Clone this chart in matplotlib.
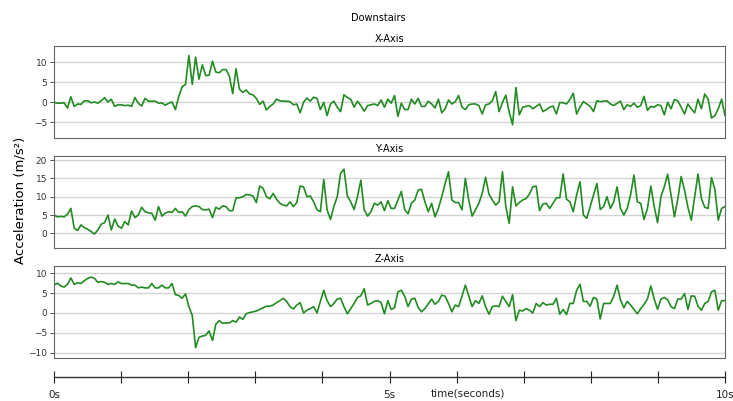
import numpy as np
import matplotlib
matplotlib.use("Agg")
import matplotlib.pyplot as plt

x_axis = [-0.1, -0.3, -0.3, -0.2, -1.5, 1.3, -1.1, -0.5, -0.6, 0.3,
          0.3, -0.2, 0.0, -0.3, 0.3, 1.1, 0.0, 0.7, -1.1, -0.7,
          -0.7, -0.9, -0.8, -1.1, 1.1, -0.3, -1.0, 0.9, 0.2, 0.2,
          0.2, -0.3, -0.2, -0.8, -0.3, 0.0, -1.9, 1.4, 3.8, 4.4,
          11.6, 4.4, 11.2, 5.7, 9.3, 6.6, 6.7, 10.2, 7.5, 7.3,
          8.1, 8.1, 6.5, 2.1, 8.3, 3.2, 2.4, 3.0, 2.0, 1.8,
          0.9, -0.6, 0.2, -2.0, -1.1, -0.5, 0.7, 0.3, 0.2, 0.2,
          0.1, -0.7, -0.5, -2.7, -0.1, 1.0, 0.2, 1.2, 0.9, -1.9,
          -0.1, -3.4, -0.5, 0.2, -1.3, -2.4, 1.8, 1.1, 0.7, -1.3,
          0.2, -0.9, -2.3, -0.9, -0.7, -0.5, -0.9, 0.5, -1.3, 0.7,
          -0.3, 1.6, -3.6, -0.3, -1.9, -1.9, 0.7, -0.5, 0.9, -1.1,
          -1.1, 0.2, -0.5, -1.5, 0.7, -2.7, -1.7, 0.5, -0.5, 0.1,
          1.6, -1.3, -1.9, -0.7, -0.5, -0.5, -0.9, -3.0, -0.7, -0.5,
          0.3, 2.6, -2.4, -0.1, 1.7, -2.5, -5.7, 3.6, -3.2, -1.3,
          -1.1, -0.9, -1.7, -1.1, -0.5, -2.4, -1.9, -1.3, -1.0, -3.0,
          -0.1, -0.2, -0.5, 0.6, 2.2, -3.0, -1.3, 0.1, -0.5, -1.1,
          -2.4, 0.3, 0.1, 0.2, 0.3, -0.5, -0.9, -0.3, 0.2, -1.9,
          -0.7, -1.1, -0.3, -1.3, -0.9, 1.4, -2.1, -1.1, -1.3, -0.7,
          -0.9, -3.2, -0.1, -1.7, 0.6, 0.3, -1.3, -3.0, -0.5, -1.7,
          -2.7, 0.7, -1.7, 2.0, 0.7, -4.0, -3.4, -1.7, 0.7, -3.4]

y_axis = [5.0, 4.5, 4.6, 4.5, 5.2, 6.8, 1.4, 0.8, 2.3, 1.6,
          1.1, 0.5, -0.2, 0.9, 2.5, 2.9, 5.0, 0.9, 3.9, 2.0,
          1.4, 3.2, 2.3, 6.1, 4.3, 5.0, 7.1, 5.9, 5.6, 5.5,
          3.6, 7.3, 4.7, 5.5, 5.9, 5.7, 6.8, 5.7, 5.9, 4.7,
          6.5, 7.3, 7.5, 7.3, 6.5, 6.4, 6.6, 4.3, 7.1, 6.6,
          7.5, 7.3, 6.2, 6.2, 9.7, 9.7, 10.0, 10.6, 10.5, 10.2,
          8.4, 12.9, 12.3, 10.0, 9.4, 10.9, 9.3, 8.2, 7.7, 7.5,
          8.6, 7.3, 8.4, 12.9, 12.7, 10.0, 10.2, 8.6, 6.4, 5.9,
          14.7, 6.4, 3.8, 7.3, 10.0, 16.4, 17.5, 10.2, 8.6, 6.5,
          10.0, 14.5, 6.4, 4.7, 5.9, 8.2, 7.7, 8.6, 6.2, 8.9,
          6.8, 6.8, 9.1, 11.4, 6.5, 5.3, 8.2, 9.1, 11.8, 12.0,
          8.6, 5.9, 8.2, 4.5, 6.8, 10.0, 13.6, 16.8, 9.1, 8.4,
          8.4, 6.4, 15.0, 9.1, 4.7, 6.4, 8.2, 10.9, 15.3, 10.7,
          9.1, 7.7, 8.6, 16.8, 7.3, 2.7, 12.7, 7.5, 8.4, 9.1,
          9.5, 10.7, 12.7, 12.9, 6.2, 8.0, 8.2, 6.8, 8.2, 9.7,
          9.7, 16.2, 9.3, 8.6, 5.9, 10.5, 14.1, 5.0, 4.1, 7.3,
          10.5, 13.6, 6.5, 7.3, 10.0, 6.8, 8.6, 12.7, 6.8, 5.0,
          6.8, 10.5, 15.9, 8.6, 8.2, 3.8, 6.8, 12.9, 7.3, 2.9,
          10.0, 12.7, 16.1, 10.5, 4.5, 9.3, 15.5, 11.8, 7.1, 3.6,
          10.0, 16.2, 9.5, 7.1, 6.8, 15.2, 12.0, 3.6, 6.8, 7.3]

z_axis = [7.0, 7.5, 6.8, 6.5, 7.2, 8.8, 7.2, 7.6, 7.4, 8.1,
          8.7, 9.0, 8.7, 7.7, 7.9, 7.7, 7.2, 7.4, 7.2, 7.8,
          7.4, 7.4, 7.4, 7.0, 7.0, 6.3, 6.5, 6.3, 6.3, 7.4,
          6.3, 6.3, 7.0, 6.3, 6.3, 7.4, 4.6, 4.4, 3.7, 4.8,
          1.6, -0.6, -8.7, -6.1, -5.8, -5.6, -4.5, -6.9, -2.8, -1.9,
          -2.6, -2.5, -2.5, -1.9, -2.3, -1.0, -1.6, -0.2, 0.1, 0.3,
          0.5, 0.9, 1.3, 1.7, 1.7, 2.0, 2.6, 3.1, 3.7, 2.9,
          1.6, 1.0, 2.0, 2.6, 0.0, 0.7, 1.1, 1.6, 0.0, 2.9,
          5.7, 3.1, 1.6, 2.4, 3.5, 3.7, 1.6, -0.2, 1.1, 2.4,
          3.9, 4.3, 6.1, 2.0, 2.4, 2.9, 3.1, 2.6, -0.2, 3.1,
          0.9, 1.3, 5.3, 5.7, 4.2, 1.6, 3.5, 3.7, 1.4, 0.3,
          1.1, 2.3, 3.5, 2.2, 2.9, 4.5, 4.2, 2.4, 0.3, 2.0,
          1.6, 4.2, 7.0, 4.3, 1.6, 3.1, 2.4, 4.3, 1.6, -0.3,
          1.6, 1.8, 1.6, 4.2, 2.9, 1.6, 4.6, -1.9, 0.7, 0.5,
          1.1, 0.7, 0.0, 2.4, 1.6, 2.6, 2.0, 2.2, 2.2, 3.7,
          -0.3, 0.9, -0.4, 2.4, 2.4, 5.7, 7.2, 2.9, 2.9, 1.7,
          3.9, 3.5, -1.5, 2.4, 2.4, 2.4, 4.2, 7.0, 3.3, 1.3,
          2.9, 2.0, 0.9, -0.2, 1.1, 2.2, 3.5, 6.8, 3.5, 0.9,
          3.5, 3.9, 3.3, 1.6, 1.1, 3.5, 3.5, 4.9, 0.9, 4.3,
          4.2, 1.7, 0.7, 2.4, 2.9, 5.3, 5.7, 0.7, 3.1, 3.1]

series = [("X-Axis", x_axis), ("Y-Axis", y_axis), ("Z-Axis", z_axis)]
y_limits = [(-9, 14), (-4, 21.1), (-11.3, 11.8)]
y_ticks = [[-5, 0, 5, 10], [0, 5, 10, 15, 20], [-10, -5, 0, 5, 10]]
time_ticks = list(range(0, 11))
time_labels = ["0s", "", "", "", "", "5s", "", "", "", "", "10s"]

W, H = 733, 401
fig = plt.figure(figsize=(W / 100, H / 100), dpi=100)
fig.patch.set_facecolor("white")

left = 54 / W
width = (725 - 54) / W
tops = [46, 156, 266]
bottoms = [138, 248, 358]

for k, (name, vals) in enumerate(series):
    b = 1 - bottoms[k] / H
    h = (bottoms[k] - tops[k]) / H
    ax = fig.add_axes([left, b, width, h])
    v = np.array(vals)
    t = np.linspace(0, 10, len(v))
    ax.plot(t, v, color="#228b22", linewidth=1.2)
    ax.set_xlim(0, 10)
    ax.set_ylim(*y_limits[k])
    ax.set_yticks(y_ticks[k])
    ax.set_xticks([])
    ax.grid(axis="y", color="#d3d3d3", linewidth=1.0)
    ax.set_axisbelow(True)
    ax.tick_params(axis="y", labelsize=6.5, length=3, width=0.6,
                   colors="#333333", pad=2)
    for s in ax.spines.values():
        s.set_color("#666666")
        s.set_linewidth(0.8)
    ax.set_title(name, fontsize=7, pad=3)

# bottom time axis
tax = fig.add_axes([left, 1 - 377 / H, width, 0.0001])
tax.set_xlim(0, 10)
tax.set_yticks([])
for sname in ["left", "right", "top"]:
    tax.spines[sname].set_visible(False)
tax.spines["bottom"].set_color("#333333")
tax.spines["bottom"].set_linewidth(1.0)
tax.set_xticks(time_ticks)
tax.set_xticklabels(time_labels)
tax.tick_params(axis="x", direction="inout", length=9, width=0.8,
                labelsize=7.5, pad=5, colors="#222222")
fig.text(468 / W, 1 - 393 / H, "time(seconds)", ha="center", va="center",
         fontsize=7.5, color="#222222")

fig.text(378 / W, 1 - 18 / H, "Downstairs", ha="center", va="center",
         fontsize=7)
fig.text(20 / W, 0.5, "Acceleration (m/s²)", rotation=90, ha="center",
         va="center", fontsize=9.5)

fig.savefig("out.png", dpi=100)
